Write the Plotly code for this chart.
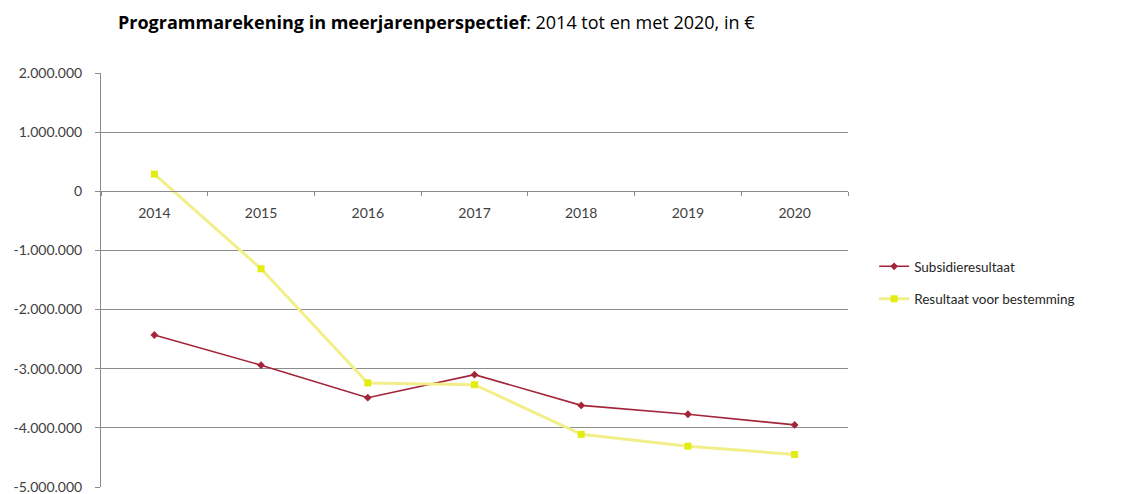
import plotly.graph_objects as go

years = ["2014", "2015", "2016", "2017", "2018", "2019", "2020"]
subsidieresultaat = [-2430000, -2940000, -3490000, -3100000, -3620000, -3770000, -3950000]
resultaat_voor_bestemming = [290000, -1310000, -3240000, -3270000, -4110000, -4310000, -4450000]
y_ticks = [2000000, 1000000, 0, -1000000, -2000000, -3000000, -4000000, -5000000]
y_tick_labels = ["2.000.000", "1.000.000", "0", "-1.000.000", "-2.000.000",
                 "-3.000.000", "-4.000.000", "-5.000.000"]

FONT = "Lato"

fig = go.Figure()
fig.add_trace(go.Scatter(
    x=years, y=subsidieresultaat, name="Subsidieresultaat",
    mode="lines+markers", legendgroup="a",
    line=dict(color="#A3253A", width=1.6),
    marker=dict(symbol="diamond", size=6, color="#A3253A"),
))
fig.add_trace(go.Scatter(
    x=years, y=resultaat_voor_bestemming, name="Resultaat voor bestemming",
    mode="lines+markers", legendgroup="b",
    line=dict(color="#F2EF8A", width=3),
    marker=dict(symbol="square", size=7, color="#E2EC10"),
))

fig.update_layout(
    width=1124, height=494,
    paper_bgcolor="white", plot_bgcolor="white",
    margin=dict(l=93, r=284, t=65, b=15, autoexpand=False),
    font=dict(family=FONT, size=14, color="#404040"),
    title=dict(
        text="<b>Programmarekening in meerjarenperspectief</b>: 2014 tot en met 2020, in €",
        x=110/1124, xanchor="left", y=1 - 15/494, yanchor="middle",
        font=dict(family="Open Sans", size=18, color="black"),
    ),
    showlegend=True,
    legend=dict(
        x=1.035, y=0.57, xanchor="left", yanchor="top",
        traceorder="grouped", tracegroupgap=12,
        font=dict(family=FONT, size=13.5, color="#262626"),
        bgcolor="rgba(0,0,0,0)",
    ),
    xaxis=dict(
        type="category", anchor="free", position=5/7,
        showline=True, linecolor="#8C8C8C", linewidth=1,
        ticks="outside", tickson="boundaries", ticklen=4, tickcolor="#8C8C8C",
        showgrid=False, tickfont=dict(size=14, color="#404040"),
        ticklabelstandoff=9, automargin=False,
        range=[-0.5, 6.5],
    ),
    yaxis=dict(
        range=[-5000000, 2000000], tickvals=y_ticks, ticktext=y_tick_labels,
        showline=True, linecolor="#8C8C8C", linewidth=1,
        ticks="outside", ticklen=5, tickcolor="#8C8C8C",
        showgrid=True, gridcolor="#8C8C8C", gridwidth=1,
        zeroline=False, tickfont=dict(size=14, color="#404040"),
        ticklabelstandoff=10, automargin=False,
    ),
)

fig.write_html("out.html")
